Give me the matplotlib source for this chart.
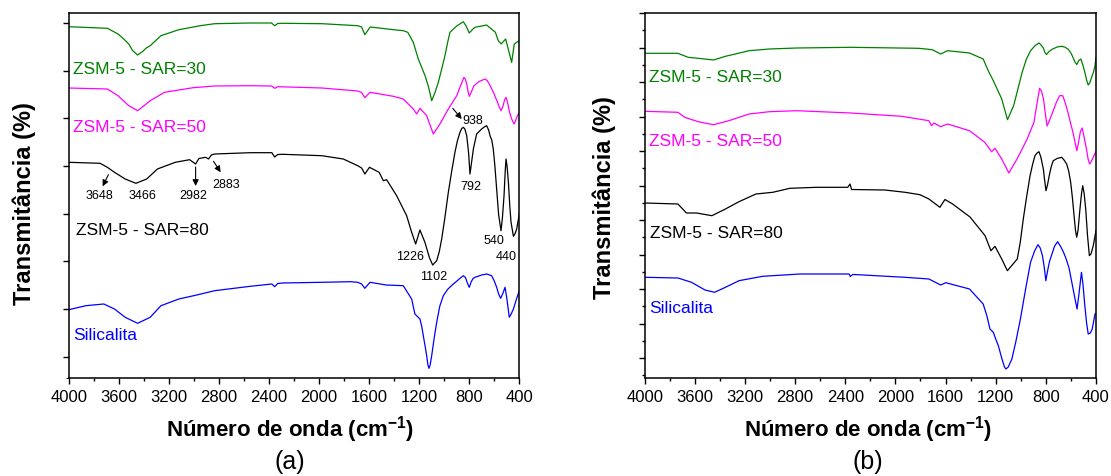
import matplotlib
matplotlib.use("Agg")
import matplotlib.pyplot as plt
from matplotlib.ticker import MultipleLocator, NullFormatter

plt.rcParams['font.family'] = ['Liberation Sans', 'DejaVu Sans']
plt.rcParams['mathtext.fontset'] = 'custom'
plt.rcParams['mathtext.rm'] = 'Liberation Sans'
plt.rcParams['mathtext.bf'] = 'Liberation Sans:bold'

# ---------------- Panel (a) data ----------------
a_green_wn = [4000, 3691, 3606, 3560, 3520, 3490, 3450, 3410, 3380, 3349, 3263, 3120, 2949, 2834, 2549, 2380, 2354,
              2330, 2291, 1977, 1691, 1660, 1634, 1591, 1406, 1327, 1291, 1247, 1207, 1153, 1125, 1100, 1075, 1047,
              1020, 994, 970, 954, 900, 847, 825, 800, 785, 770, 754, 661, 591, 568, 545, 509, 461, 440, 421, 400]
a_green_t = [351.3, 349.7, 344, 339, 334, 327.5, 323, 326.5, 330, 332.3, 342.3, 348.3, 352.3, 354.3, 355, 355, 352.3,
             354.5, 354.7, 354.3, 352.3, 351, 343.3, 351, 348.3, 347.3, 345.7, 335.7, 319, 302.3, 291, 277.3, 285,
             295.7, 309, 322.3, 337, 345.7, 352, 356.3, 352, 345, 347, 349, 350.7, 353, 345.7, 337.3, 334, 339,
             315.7, 334, 335.7, 337.3]

a_mag_wn = [4000, 3691, 3606, 3520, 3449, 3349, 3234, 3006, 2834, 2549, 2380, 2354, 2330, 1977, 1691, 1660, 1634,
            1593, 1406, 1327, 1247, 1220, 1193, 1140, 1087, 1034, 967, 900, 870, 842, 832, 820, 810, 800, 790, 780,
            762, 720, 674, 657, 640, 607, 575, 560, 546, 530, 518, 506, 495, 478, 461, 442, 430, 420, 400]
a_mag_t = [290, 289, 282.3, 272.3, 267.3, 277.3, 285.7, 290.3, 292, 292.3, 292, 289.7, 291.3, 290, 287, 285.5, 280.3,
           285.7, 281.7, 279, 269, 264, 269.7, 262.3, 244, 254, 269, 282.3, 292, 300.7, 299, 294, 287, 281.7, 284,
           287, 292.3, 296.5, 299, 297.5, 294, 285.7, 276, 271, 267.3, 272, 278, 280.7, 276, 266, 259, 254, 257,
           261, 265.7]

a_blk_wn = [4000, 3749, 3691, 3634, 3549, 3463, 3377, 3291, 3149, 3034, 2986, 2960, 2906, 2883, 2860, 2834, 2549,
            2377, 2354, 2330, 2291, 1977, 1806, 1691, 1660, 1634, 1597, 1520, 1486, 1460, 1380, 1300, 1260, 1228,
            1194, 1154, 1119, 1092, 1060, 1040, 1020, 995, 967, 940, 914, 895, 874, 860, 847, 835, 820, 805, 794,
            782, 767, 741, 701, 680, 661, 645, 634, 620, 608, 595, 581, 565, 546, 535, 522, 512, 506, 498, 487,
            476, 466, 447, 435, 421, 400]
a_blk_t = [215.7, 214.7, 210.7, 205.7, 199, 194.7, 199, 209, 215.7, 218.3, 214, 219.5, 220.7, 219, 223, 224, 225.3,
           225.3, 221, 223.5, 223.7, 222.3, 219, 212.3, 210, 204, 210.7, 205.7, 197.3, 198.3, 182.3, 162.3, 145.7,
           134, 148, 135.7, 120.7, 113, 117.3, 126, 139, 160, 185.7, 207, 225.7, 237, 245.7, 249.5, 250.7, 249,
           242.3, 225, 204, 215, 229, 244, 249, 251, 252.3, 248, 242.3, 238, 229, 212, 189, 163, 147.3, 160,
           182.3, 208, 219, 212, 195.7, 172, 155.7, 141.7, 144, 149, 164]

a_blue_wn = [4000, 3863, 3720, 3634, 3549, 3449, 3349, 3263, 3120, 2977, 2834, 2549, 2377, 2354, 2330, 2291, 1977,
             1749, 1691, 1660, 1634, 1593, 1463, 1327, 1260, 1234, 1194, 1180, 1167, 1150, 1140, 1130, 1122, 1112,
             1100, 1080, 1060, 1035, 1007, 970, 927, 880, 847, 830, 815, 800, 785, 770, 754, 700, 661, 621, 600,
             581, 565, 549, 530, 514, 500, 480, 465, 447, 425, 400]
a_blue_t = [68.3, 72.3, 74, 69, 60.7, 54.7, 60.7, 72.3, 79, 83, 87.3, 91.7, 94, 91.3, 94.5, 95, 95.7, 96.3, 95.7,
            94, 89.7, 95.7, 93, 92.3, 79, 64, 59, 52, 42.3, 30, 22.3, 13, 9.7, 13, 22.3, 40, 55.7, 72, 82.3, 89,
            94, 99, 102.3, 100.5, 95, 90.7, 96, 99.5, 100.7, 103, 104, 102.3, 97, 90.7, 84, 79.7, 85, 90.7, 80,
            60.7, 64, 69, 78, 87.3]

# ---------------- Panel (b) data ----------------
b_green_wn = [4000, 3735, 3654, 3573, 3451, 3356, 3167, 3005, 2788, 2355, 1814, 1706, 1639, 1584, 1409, 1300, 1260,
              1219, 1152, 1106, 1057, 1025, 989, 955, 922, 885, 854, 838, 820, 808, 795, 775, 746, 710, 678, 650,
              624, 600, 584, 568, 553, 537, 521, 505, 489, 475, 462, 450, 435, 420, 408, 400]
b_green_t = [324.7, 324.7, 320.7, 319.7, 318, 321.7, 327.3, 329, 330, 330.7, 329.7, 328.3, 324, 327.3, 325, 319,
             307.3, 297.3, 279, 258.3, 272.3, 288, 305.7, 319, 327.3, 332.5, 335, 333, 330, 325.5, 323.5, 326.5,
             329, 331, 331.7, 331, 329, 325, 320.7, 316, 313.5, 317.5, 319, 313, 305.7, 298, 293, 295, 300.7, 306,
             312.3, 320.7]

b_mag_wn = [4000, 3735, 3681, 3573, 3451, 3329, 3167, 3005, 2788, 2355, 1950, 1733, 1712, 1693, 1639, 1584, 1409,
            1287, 1233, 1206, 1152, 1095, 1030, 949, 895, 870, 850, 835, 819, 805, 790, 770, 746, 715, 690, 665,
            645, 624, 605, 584, 568, 553, 540, 525, 510, 495, 476, 463, 451, 440, 422, 400]
b_mag_t = [266.7, 265.7, 260.7, 256.3, 253.3, 257.3, 264, 266.3, 267.3, 265, 261.7, 257.3, 252.3, 255, 251.3, 254,
           247.3, 235.7, 226.3, 229.7, 219, 205, 219, 239, 255.7, 275, 289.7, 287, 279, 265, 252, 258, 265.7, 276,
           282.3, 282.3, 275, 265.7, 256, 245.7, 236, 227.3, 235, 246, 250, 241, 229, 219, 214, 216, 220.7, 226.7]

b_blk_wn = [4000, 3735, 3667, 3586, 3464, 3356, 3248, 3113, 2978, 2842, 2626, 2380, 2362, 2350, 2085, 1923, 1804,
            1733, 1645, 1605, 1544, 1405, 1285, 1238, 1206, 1152, 1107, 1028, 1005, 980, 955, 926, 905, 887, 870,
            855, 840, 820, 810, 799, 787, 773, 758, 741, 710, 674, 655, 634, 618, 602, 588, 575, 564, 554, 543,
            528, 515, 506, 495, 482, 468, 453, 440, 422, 400]
b_blk_t = [175, 174, 165, 165, 162.3, 169, 176.3, 184, 185.7, 189.7, 190.7, 190.7, 194, 188.5, 188, 185.7, 183.3,
           179, 170.7, 178.5, 174, 161, 142.3, 127.3, 131.7, 119, 107.3, 119, 135, 159, 180, 202.3, 214, 222.3,
           225, 226.3, 221, 209, 198, 187.3, 193, 202.3, 211, 217.3, 219.5, 220.7, 218, 214, 207, 195.7, 180,
           162.3, 148, 140.7, 148, 169, 185, 192.3, 185, 169, 143, 122.3, 124, 132.3, 147.3]

b_blue_wn = [4000, 3735, 3627, 3519, 3443, 3356, 3248, 3059, 2761, 2369, 2360, 2340, 2301, 1923, 1733, 1639, 1598,
             1409, 1300, 1270, 1246, 1219, 1200, 1179, 1150, 1130, 1119, 1100, 1071, 1040, 1003, 960, 922, 890,
             863, 845, 827, 812, 800, 785, 770, 760, 730, 706, 680, 660, 638, 615, 598, 575, 551, 535, 516, 505,
             489, 475, 462, 445, 430, 408, 400]
b_blue_t = [100.7, 100, 95.7, 88, 85.7, 90.7, 97.3, 101.7, 104, 104, 101.5, 103.5, 103.3, 100.7, 99, 93, 95.3, 89,
            74, 62, 49, 45.7, 39, 32.3, 19, 11, 9, 11, 19, 36, 59, 90, 115.7, 127, 133.3, 130, 122.3, 110, 97.3,
            108, 117, 120.7, 132, 136.3, 131, 126, 119, 110, 99, 84, 69, 85, 105.7, 95, 72.3, 55, 44, 45, 49, 64,
            64.7]

series_labels = ["ZSM-5 - SAR=30", "ZSM-5 - SAR=50", "ZSM-5 - SAR=80", "Silicalita"]
series_colors = ["#008000", "#FF00FF", "#000000", "#0000FF"]

# band annotations for panel (a)
band_labels = ["3648", "3466", "2982", "2883", "938", "792", "1226", "1102", "540", "440"]
band_text_wn = [3758, 3414, 3003, 2742, 768, 788, 1273, 1082, 602, 501]
band_text_y = [183, 183, 183, 194, 258, 192.3, 122.3, 101.7, 138, 122.3]
arrow_tail_wn = [3683, 2986, 2843, 932]
arrow_tail_y = [203.3, 211, 216.7, 269.7]
arrow_head_wn = [3729, 2986, 2786, 860]
arrow_head_y = [191.7, 192, 205.7, 259]

# curve label positions
a_lab_wn = [3963, 3963, 3945, 3963]
a_lab_y = [309, 251.7, 148.3, 44]
b_lab_wn = [3966, 3966, 3955, 3966]
b_lab_y = [301.7, 237.3, 145.7, 70.7]

fig = plt.figure(figsize=(11.11, 4.77), dpi=100)
axA = fig.add_axes([68.7 / 1111, 98 / 477, 450.6 / 1111, 365 / 477])
axB = fig.add_axes([644.7 / 1111, 98 / 477, 451.3 / 1111, 365 / 477])

dataA = [(a_green_wn, a_green_t), (a_mag_wn, a_mag_t), (a_blk_wn, a_blk_t), (a_blue_wn, a_blue_t)]
dataB = [(b_green_wn, b_green_t), (b_mag_wn, b_mag_t), (b_blk_wn, b_blk_t), (b_blue_wn, b_blue_t)]

for ax, data, lwn, ly in [(axA, dataA, a_lab_wn, a_lab_y), (axB, dataB, b_lab_wn, b_lab_y)]:
    for (wn, t), c, lab, xw, yy in zip(data, series_colors, series_labels, lwn, ly):
        ax.plot(wn, t, color=c, lw=0.9, solid_joinstyle='round')
        ax.text(xw, yy, lab, color=c, fontsize=12.5, ha='left', va='center')
    ax.set_xlim(4000, 400)
    ax.set_ylim(0, 365)
    ax.xaxis.set_major_locator(MultipleLocator(400))
    ax.xaxis.set_minor_locator(MultipleLocator(200))
    ax.tick_params(axis='x', which='major', direction='out', length=4, width=1, labelsize=12, pad=4)
    ax.tick_params(axis='x', which='minor', direction='out', length=2.5, width=1)
    ax.tick_params(top=False, right=False)
    ax.yaxis.set_major_formatter(NullFormatter())
    ax.yaxis.set_minor_formatter(NullFormatter())
    for s in ax.spines.values():
        s.set_linewidth(1.1)

axA.yaxis.set_major_locator(MultipleLocator(47.7, offset=21.3))
axA.yaxis.set_minor_locator(MultipleLocator(1000))
axA.tick_params(axis='y', which='major', direction='out', length=4.5, width=1)

axB.yaxis.set_major_locator(MultipleLocator(34.5, offset=20))
axB.yaxis.set_minor_locator(MultipleLocator(34.5, offset=2.75))
axB.tick_params(axis='y', which='major', direction='out', length=4.5, width=1)
axB.tick_params(axis='y', which='minor', direction='out', length=2.5, width=1)

for txt, xw, yy in zip(band_labels, band_text_wn, band_text_y):
    axA.text(xw, yy, txt, fontsize=9, ha='center', va='center', color='black')
for tx, ty, hx, hy in zip(arrow_tail_wn, arrow_tail_y, arrow_head_wn, arrow_head_y):
    axA.annotate('', xy=(hx, hy), xytext=(tx, ty),
                 arrowprops=dict(arrowstyle='-|>', color='black', lw=0.8, mutation_scale=9,
                                 shrinkA=0, shrinkB=0))

for cx, cy in [(24, 204), (604, 198)]:
    fig.text(cx / 1111, 1 - cy / 477, 'Transmitância (%)', rotation=90, ha='center', va='center',
             fontsize=17, fontweight='bold')
for cx, panel in [(290, '(a)'), (868, '(b)')]:
    fig.text(cx / 1111, 1 - 430 / 477, r'Número de onda (cm$^{\mathbf{-1}}$)', ha='center', va='center',
             fontsize=16, fontweight='bold')
    fig.text(cx / 1111, 1 - 462 / 477, panel, ha='center', va='center', fontsize=18)

fig.savefig('out.png', dpi=100)
